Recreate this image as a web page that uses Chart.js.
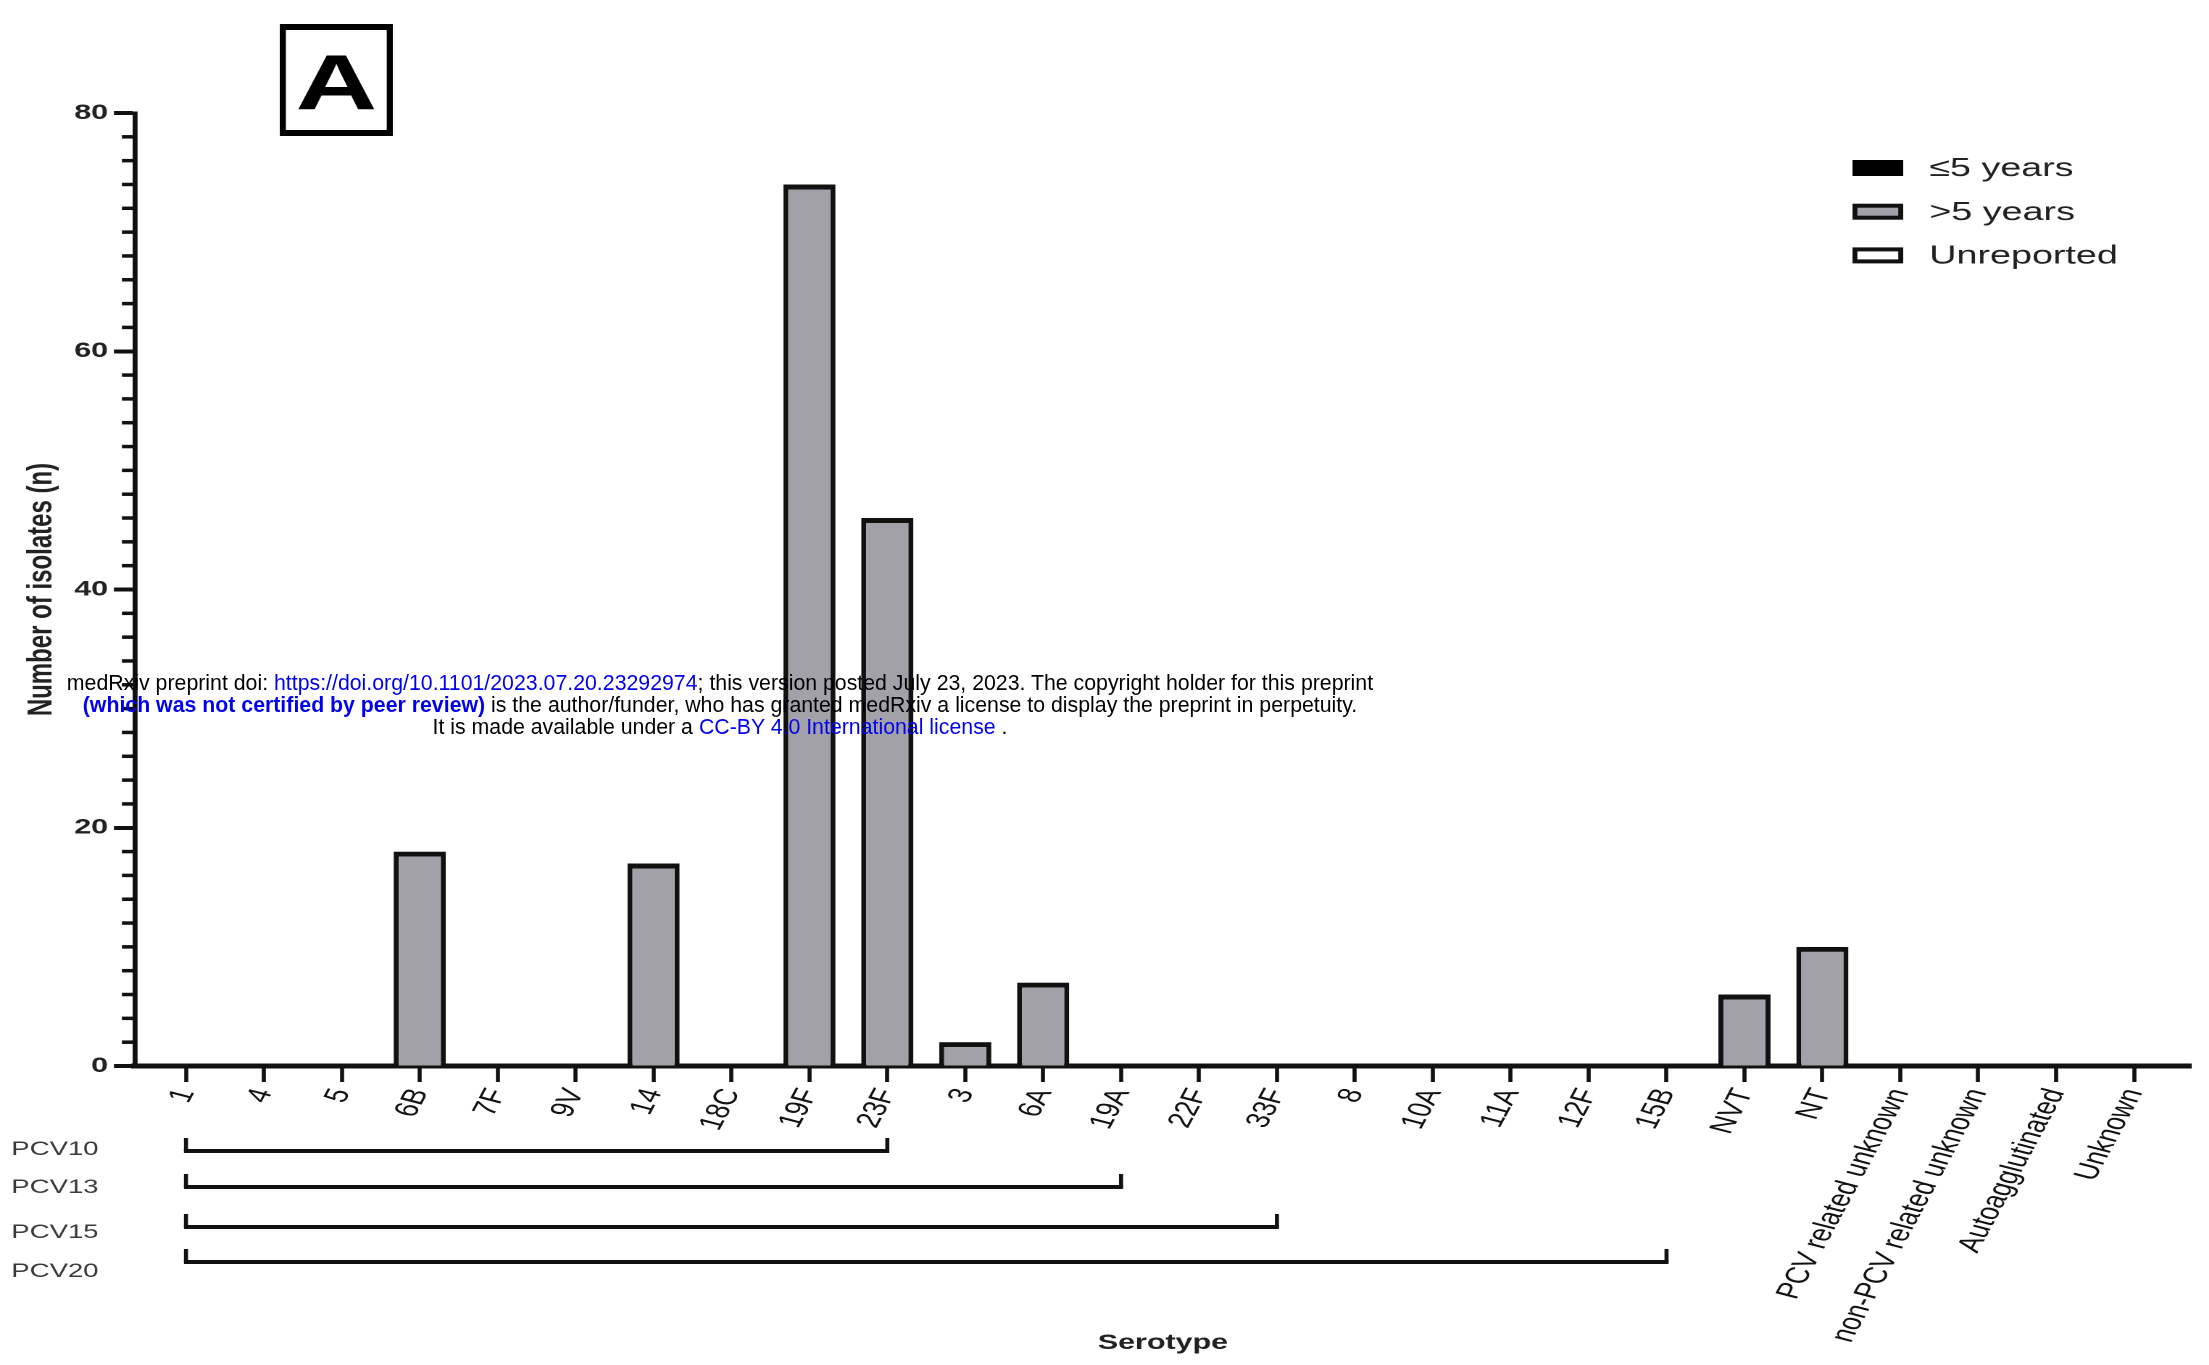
<!DOCTYPE html>
<html>
<head>
<meta charset="utf-8">
<title>Serotype distribution</title>
<script src="https://cdn.jsdelivr.net/npm/chart.js@4.4.0/dist/chart.umd.min.js"></script>
<style>
  html, body { margin: 0; padding: 0; background: #fff; }
  body { width: 2209px; height: 1365px; overflow: hidden; position: relative; }
  /* the source figure is stretched sideways, so the chart is drawn narrow and widened */
  #wrap { position: absolute; left: 0; top: 0; width: 1524px; height: 1365px;
          transform: scaleX(1.4495); transform-origin: 0 0; }
  #note { position: absolute; left: 0; top: 672px; width: 1440px; text-align: center;
          font-family: 'Liberation Sans', Arial, sans-serif; font-size: 21.3px; line-height: 22px;
          color: #000; white-space: nowrap; }
  #note .lnk { color: #0000ee; }
  #note .bold { color: #0000ee; font-weight: bold; }
</style>
</head>
<body>
<div id="wrap"><canvas id="chart" width="1524" height="1365"></canvas></div>
<div id="note">
  <div>medRxiv preprint doi: <span class="lnk">https://doi.org/10.1101/2023.07.20.23292974</span>; this version posted July 23, 2023. The copyright holder for this preprint</div>
  <div><span class="bold">(which was not certified by peer review)</span> is the author/funder, who has granted medRxiv a license to display the preprint in perpetuity.</div>
  <div>It is made available under a <span class="lnk">CC-BY 4.0 International license</span> .</div>
</div>
<script>
const serotypes = ['1', '4', '5', '6B', '7F', '9V', '14', '18C', '19F', '23F', '3', '6A', '19A', '22F', '33F',
  '8', '10A', '11A', '12F', '15B', 'NVT', 'NT', 'PCV related unknown', 'non-PCV related unknown',
  'Autoagglutinated', 'Unknown'];
const under5 = [0, 0, 0, 0, 0, 0, 0, 0, 0, 0, 0, 0, 0, 0, 0, 0, 0, 0, 0, 0, 0, 0, 0, 0, 0, 0];
const over5 = [0, 0, 0, 18, 0, 0, 17, 0, 74, 46, 2, 7, 0, 0, 0, 0, 0, 0, 0, 0, 6, 10, 0, 0, 0, 0];
const unreported = [0, 0, 0, 0, 0, 0, 0, 0, 0, 0, 0, 0, 0, 0, 0, 0, 0, 0, 0, 0, 0, 0, 0, 0, 0, 0];
const yTicks = [0, 20, 40, 60, 80];
const yMinorStep = 2;
const vaccines = ['PCV10', 'PCV13', 'PCV15', 'PCV20'];
const vaccineFirst = ['1', '1', '1', '1'];
const vaccineLast = ['23F', '19A', '33F', '15B'];

const FONT = "'Liberation Sans', Arial, Helvetica, sans-serif";
const toPoints = vals => vals.map((v, i) => ({ x: i, y: v }));

const extras = {
  id: 'extras',
  afterDraw(chart, args, opts) {
    const { ctx, chartArea, scales: { x, y } } = chart;
    ctx.save();

    // minor ticks on the y axis
    ctx.fillStyle = '#111';
    for (let v = yTicks[0]; v <= yTicks[yTicks.length - 1]; v += yMinorStep) {
      if (yTicks.includes(v)) continue;
      const py = y.getPixelForValue(v);
      ctx.fillRect(chartArea.left - 9, py - 1.75, 9, 3.5);
    }

    // vaccine coverage brackets
    vaccines.forEach((name, i) => {
      const ly = opts.lineY[i];
      const x1 = x.getPixelForValue(serotypes.indexOf(vaccineFirst[i]));
      const x2 = x.getPixelForValue(serotypes.indexOf(vaccineLast[i]));
      ctx.fillStyle = '#111';
      ctx.fillRect(x1 - 1.4, ly - 2, x2 - x1 + 2.8, 4);
      ctx.fillRect(x1 - 1.4, ly - 13, 2.8, 13);
      ctx.fillRect(x2 - 1.4, ly - 13, 2.8, 13);
      ctx.fillStyle = '#3a3a3a';
      ctx.font = `19px ${FONT}`;
      ctx.textAlign = 'left';
      ctx.textBaseline = 'middle';
      ctx.fillText(name, 7.8, opts.textY[i]);
    });

    // legend
    const lg = opts.legend;
    chart.data.datasets.forEach((ds, i) => {
      const cy = lg.top + i * lg.gap;
      ctx.fillStyle = ds.borderColor;
      ctx.fillRect(lg.x, cy - lg.h / 2, lg.w, lg.h);
      ctx.fillStyle = ds.backgroundColor;
      ctx.fillRect(lg.x + 3.4, cy - lg.h / 2 + 4, lg.w - 6.8, lg.h - 8);
      ctx.fillStyle = '#222';
      ctx.font = `26px ${FONT}`;
      ctx.textAlign = 'left';
      ctx.textBaseline = 'middle';
      ctx.fillText(ds.label, lg.textX, cy + 1);
    });

    // panel letter
    const p = opts.panel;
    ctx.fillStyle = '#000';
    ctx.fillRect(p.x, p.y, p.w, 6);
    ctx.fillRect(p.x, p.y + p.h - 6, p.w, 6);
    ctx.fillRect(p.x, p.y, 4.2, p.h);
    ctx.fillRect(p.x + p.w - 4.2, p.y, 4.2, p.h);
    ctx.font = `bold 78px ${FONT}`;
    ctx.textAlign = 'center';
    ctx.textBaseline = 'alphabetic';
    ctx.fillText('A', p.x + p.w / 2, p.y + 85);

    ctx.restore();
  }
};

new Chart(document.getElementById('chart'), {
  type: 'bar',
  data: {
    datasets: [
      { label: '\u22645 years', data: toPoints(under5), backgroundColor: '#000000', borderColor: '#000000' },
      { label: '>5 years', data: toPoints(over5), backgroundColor: '#a2a1a7', borderColor: '#111111' },
      { label: 'Unreported', data: toPoints(unreported), backgroundColor: '#ffffff', borderColor: '#111111' }
    ]
  },
  options: {
    responsive: false,
    animation: false,
    devicePixelRatio: 2,
    layout: { padding: { left: 0, top: 113, right: 12.5, bottom: 0 } },
    datasets: {
      bar: {
        barPercentage: 0.67,
        categoryPercentage: 1,
        borderWidth: { top: 5, left: 3.5, right: 3.5, bottom: 0 },
        borderSkipped: 'start'
      }
    },
    plugins: {
      legend: { display: false },
      tooltip: { enabled: false },
      extras: {
        lineY: [1151, 1187, 1227, 1262],
        textY: [1150, 1188, 1233, 1272],
        legend: { x: 1278, top: 168, gap: 43.7, w: 35, h: 16, textX: 1331 },
        panel: { x: 193, y: 24, w: 78, h: 112 }
      }
    },
    scales: {
      x: {
        type: 'linear',
        min: -0.655,
        max: 25.73,
        offset: false,
        stacked: true,
        grid: { display: true, drawOnChartArea: false, offset: false, tickLength: 16, tickWidth: 2.8,
                color: '#111', tickColor: '#111' },
        border: { display: true, color: '#111', width: 5 },
        ticks: {
          stepSize: 1,
          includeBounds: false,
          autoSkip: false,
          minRotation: 69.5,
          maxRotation: 69.5,
          padding: 3,
          color: '#111',
          font: { family: FONT, size: 23 },
          callback: v => Number.isInteger(v) && serotypes[v] !== undefined ? serotypes[v] : ''
        },
        title: { display: true, text: 'Serotype', color: '#222',
                 font: { family: FONT, size: 21, weight: 'bold' }, padding: { top: 0, bottom: 9.4 } },
        afterFit: s => { s.height = 299; }
      },
      y: {
        min: yTicks[0],
        max: yTicks[yTicks.length - 1],
        stacked: true,
        grid: { display: true, drawOnChartArea: false, tickLength: 14.5, tickWidth: 4,
                color: '#111', tickColor: '#111' },
        border: { display: true, color: '#111', width: 3.4 },
        ticks: { stepSize: 20, padding: 4, color: '#222', font: { family: FONT, size: 21, weight: 'bold' } },
        title: { display: true, text: 'Number of isolates (n)', color: '#222',
                 font: { family: FONT, size: 24, weight: 'bold' }, padding: { top: 14.6, bottom: 0 } },
        afterFit: s => { s.width = 93.1; }
      }
    }
  },
  plugins: [extras]
});
</script>
</body>
</html>
